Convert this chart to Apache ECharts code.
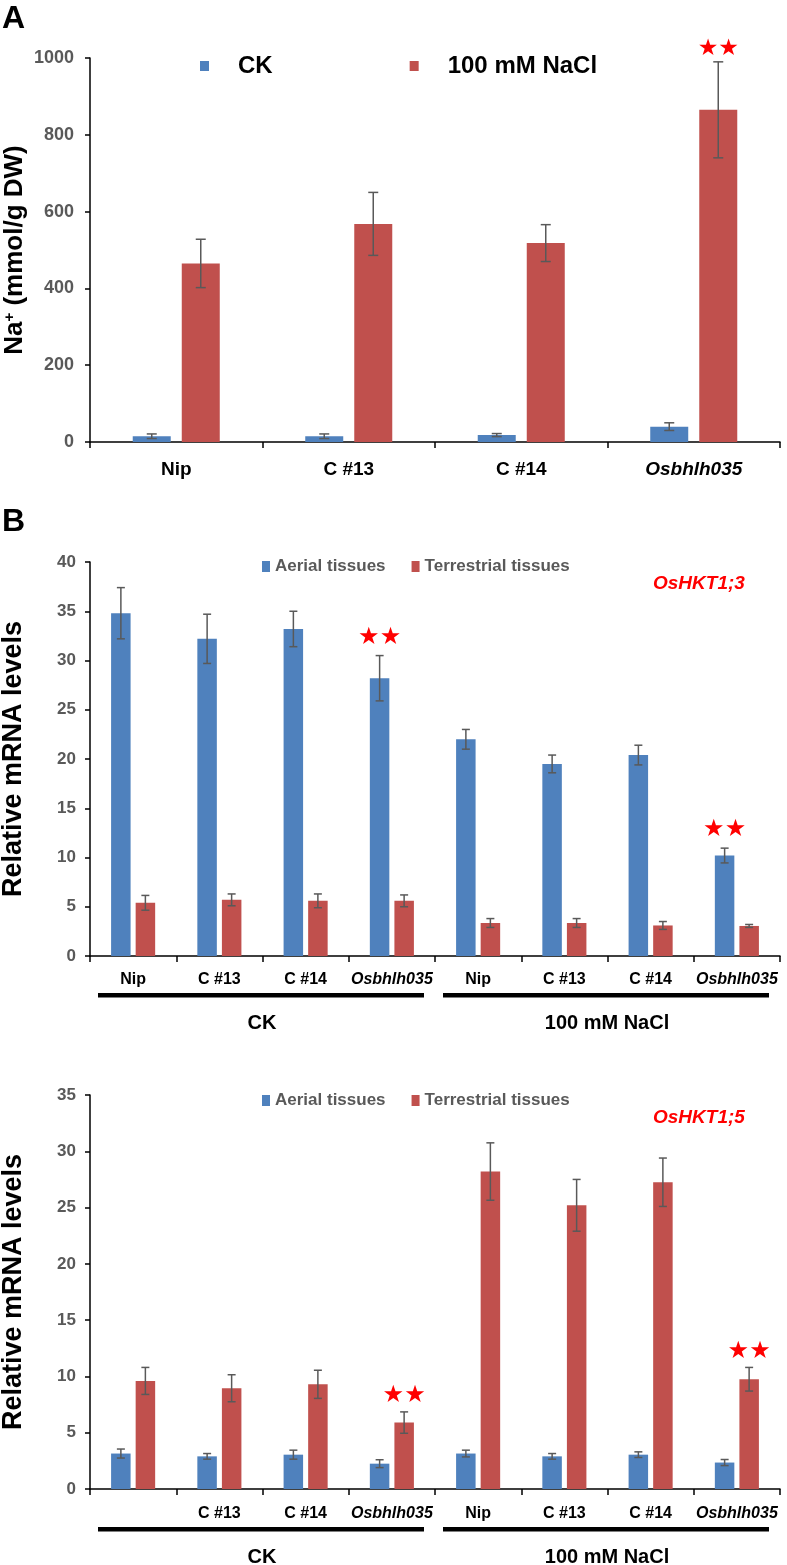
<!DOCTYPE html>
<html><head><meta charset="utf-8">
<script src="https://cdn.jsdelivr.net/npm/echarts@6/dist/echarts.min.js"></script>
<style>html,body{margin:0;padding:0;background:#fff}#c{width:787px;height:1565px}</style>
</head><body><div id="c"></div>
<script>
// ---------- Data ----------
const catsA = ['Nip', 'C #13', 'C #14', 'Osbhlh035'];
const naCK = [15, 15, 18, 40];
const naCKErr = [6, 6, 4, 10];
const naNaCl = [465, 568, 518, 865];
const naNaClErr = [63, 82, 48, 125];
const sigA_CK = [0, 0, 0, 0];
const sigA_NaCl = [0, 0, 0, 1];

const catsB1 = ['Nip', 'C #13', 'C #14', 'Osbhlh035', 'Nip', 'C #13', 'C #14', 'Osbhlh035'];
const hkt13Aerial = [34.8, 32.2, 33.2, 28.2, 22.0, 19.5, 20.4, 10.2];
const hkt13AerialErr = [2.6, 2.5, 1.8, 2.3, 1.0, 0.9, 1.0, 0.75];
const hkt13Terr = [5.4, 5.7, 5.6, 5.6, 3.35, 3.35, 3.1, 3.05];
const hkt13TerrErr = [0.75, 0.6, 0.7, 0.6, 0.45, 0.45, 0.4, 0.15];
const sigB1_Aerial = [0, 0, 0, 1, 0, 0, 0, 1];
const sigB1_Terr = [0, 0, 0, 0, 0, 0, 0, 0];

const catsB2 = ['', 'C #13', 'C #14', 'Osbhlh035', 'Nip', 'C #13', 'C #14', 'Osbhlh035'];
const hkt15Aerial = [3.15, 2.9, 3.05, 2.25, 3.15, 2.9, 3.05, 2.35];
const hkt15AerialErr = [0.4, 0.25, 0.4, 0.35, 0.3, 0.25, 0.25, 0.27];
const hkt15Terr = [9.6, 8.95, 9.3, 5.9, 28.2, 25.2, 27.25, 9.75];
const hkt15TerrErr = [1.2, 1.2, 1.25, 0.95, 2.55, 2.3, 2.15, 1.05];
const sigB2_Aerial = [0, 0, 0, 0, 0, 0, 0, 0];
const sigB2_Terr = [0, 0, 0, 1, 0, 0, 0, 1];

const legendA = ['CK', '100 mM NaCl'];
const legendB = ['Aerial tissues', 'Terrestrial tissues'];
const groupLabels = ['CK', '100 mM NaCl'];
const geneB1 = 'OsHKT1;3';
const geneB2 = 'OsHKT1;5';

// ---------- Style ----------
const FONT = "'Liberation Sans', Arial, sans-serif";
const BLUE = '#4F81BD', RED = '#C0504D', GRAY = '#595959';

function errData(vals, errs, sig) {
  return vals.map((v, i) => [i, v, errs[i], sig[i]]);
}
function errSeries(xi, yi, data, offset, cap, starSize, starGap) {
  return {
    type: 'custom', xAxisIndex: xi, yAxisIndex: yi, z: 5, silent: true,
    encode: { x: 0, y: 1 }, data: data,
    renderItem: function (params, api) {
      const i = api.value(0), v = api.value(1), e = api.value(2), s = api.value(3);
      const top = api.coord([i, v + e]);
      const bot = api.coord([i, v - e]);
      const x = top[0] + offset;
      const st = { stroke: GRAY, lineWidth: 1.5 };
      const ch = [
        { type: 'line', shape: { x1: x, y1: top[1], x2: x, y2: bot[1] }, style: st },
        { type: 'line', shape: { x1: x - cap, y1: top[1], x2: x + cap, y2: top[1] }, style: st },
        { type: 'line', shape: { x1: x - cap, y1: bot[1], x2: x + cap, y2: bot[1] }, style: st }
      ];
      if (s) {
        ch.push({ type: 'text', style: { text: '★★', x: x, y: top[1] - starGap, align: 'center', verticalAlign: 'bottom',
          fill: '#FF0000', font: starSize + "px 'DejaVu Sans', sans-serif" } });
      }
      return { type: 'group', children: ch };
    }
  };
}

function catAxis(gi, cats, fs, margin) {
  return {
    type: 'category', gridIndex: gi, data: cats,
    axisLine: { lineStyle: { color: '#000', width: 1.5 } },
    axisTick: { show: true, length: 6, lineStyle: { color: '#000', width: 1.5 } },
    axisLabel: {
      interval: 0, margin: margin, color: '#000', fontFamily: FONT, fontWeight: 'bold', fontSize: fs,
      formatter: v => v === 'Osbhlh035' ? '{i|' + v + '}' : v,
      rich: { i: { fontStyle: 'italic', fontWeight: 'bold', fontSize: fs, fontFamily: FONT, color: '#000' } }
    }
  };
}
function valAxis(gi, max, interval, fs, name, nameGap, nameSize, margin, rich) {
  return {
    type: 'value', gridIndex: gi, min: 0, max: max, interval: interval,
    splitLine: { show: false },
    axisLine: { show: true, lineStyle: { color: '#000', width: 1.5 } },
    axisTick: { show: true, length: 5, lineStyle: { color: '#000', width: 1.5 } },
    axisLabel: { color: GRAY, fontFamily: FONT, fontWeight: 'bold', fontSize: fs, margin: margin, formatter: v => String(v) },
    name: name, nameLocation: 'middle', nameGap: nameGap, nameMoveOverlap: false,
    nameTextStyle: { color: '#000', fontFamily: FONT, fontWeight: 'bold', fontSize: nameSize, rich: rich }
  };
}

const grids = [
  { left: 90, right: 7, top: 58, height: 384, containLabel: false, outerBoundsMode: 'none' },
  { left: 90, right: 7, top: 562, height: 394, containLabel: false, outerBoundsMode: 'none' },
  { left: 90, right: 7, top: 1095, height: 394, containLabel: false, outerBoundsMode: 'none' }
];

// Group underline decorations (below panel B axes)
const plotL = 90, plotR = 780, catW = (plotR - plotL) / 8;
function groupDeco(yLine, yText) {
  const out = [];
  [[0, 3], [4, 7]].forEach((g, k) => {
    const x1 = plotL + g[0] * catW + 8, x2 = plotL + (g[1] + 1) * catW - 11;
    out.push({ type: 'rect', shape: { x: x1, y: yLine, width: x2 - x1, height: 4.5 }, style: { fill: '#000' } });
    out.push({ type: 'text', style: { text: groupLabels[k], x: (x1 + x2) / 2 + 1, y: yText, align: 'center', verticalAlign: 'middle',
      fill: '#000', font: 'bold 20px ' + FONT } });
  });
  return out;
}

const option = {
  animation: false,
  backgroundColor: '#fff',
  grid: grids,
  legend: [
    { data: legendA, left: 200, top: 54, padding: 0, itemWidth: 9, itemHeight: 10, itemGap: 137, icon: 'rect',
      formatter: n => '{t|' + n + '}',
      textStyle: { rich: { t: { padding: [0, 0, 0, 24], fontSize: 24, fontWeight: 'bold', fontFamily: FONT, color: '#000' } } } },
    { data: legendB.map(n => ({ name: n })), left: 262, top: 558, padding: 0, itemWidth: 8, itemHeight: 11, itemGap: 26, icon: 'rect',
      textStyle: { fontSize: 17, fontWeight: 'bold', fontFamily: FONT, color: GRAY } },
    { data: legendB.map(n => ({ name: n })), left: 262, top: 1092, padding: 0, itemWidth: 8, itemHeight: 11, itemGap: 26, icon: 'rect',
      textStyle: { fontSize: 17, fontWeight: 'bold', fontFamily: FONT, color: GRAY } }
  ],
  xAxis: [catAxis(0, catsA, 19, 18), catAxis(1, catsB1, 16, 16), catAxis(2, catsB2, 16, 17)],
  yAxis: [
    valAxis(0, 1000, 200, 18, '{a|Na}{s|+}{a| (mmol/g DW)}', 62, 26, 16,
      { a: { fontSize: 26, fontWeight: 'bold', fontFamily: FONT, color: '#000' },
        s: { fontSize: 15, fontWeight: 'bold', fontFamily: FONT, color: '#000', verticalAlign: 'top', padding: [0, 0, 10, 0] } }),
    valAxis(1, 40, 5, 17, 'Relative mRNA levels', 63, 27, 14),
    valAxis(2, 35, 5, 17, 'Relative mRNA levels', 63, 27, 14)
  ],
  series: [
    { name: legendA[0], type: 'bar', xAxisIndex: 0, yAxisIndex: 0, data: naCK, barWidth: 38, barGap: '29%', itemStyle: { color: BLUE } },
    { name: legendA[1], type: 'bar', xAxisIndex: 0, yAxisIndex: 0, data: naNaCl, barWidth: 38, barGap: '29%', itemStyle: { color: RED } },
    errSeries(0, 0, errData(naCK, naCKErr, sigA_CK), -24.5, 5, 23, 1),
    errSeries(0, 0, errData(naNaCl, naNaClErr, sigA_NaCl), 24.5, 5, 23, 1),

    { name: legendB[0], type: 'bar', xAxisIndex: 1, yAxisIndex: 1, data: hkt13Aerial, barWidth: 19.5, barGap: '26%', itemStyle: { color: BLUE } },
    { name: legendB[1], type: 'bar', xAxisIndex: 1, yAxisIndex: 1, data: hkt13Terr, barWidth: 19.5, barGap: '26%', itemStyle: { color: RED } },
    errSeries(1, 1, errData(hkt13Aerial, hkt13AerialErr, sigB1_Aerial), -12.25, 4, 24, 6),
    errSeries(1, 1, errData(hkt13Terr, hkt13TerrErr, sigB1_Terr), 12.25, 4, 24, 6),

    { name: legendB[0], type: 'bar', xAxisIndex: 2, yAxisIndex: 2, data: hkt15Aerial, barWidth: 19.5, barGap: '26%', itemStyle: { color: BLUE } },
    { name: legendB[1], type: 'bar', xAxisIndex: 2, yAxisIndex: 2, data: hkt15Terr, barWidth: 19.5, barGap: '26%', itemStyle: { color: RED } },
    errSeries(2, 2, errData(hkt15Aerial, hkt15AerialErr, sigB2_Aerial), -12.25, 4, 24, 4),
    errSeries(2, 2, errData(hkt15Terr, hkt15TerrErr, sigB2_Terr), 12.25, 4, 24, 4)
  ],
  graphic: [
    { type: 'text', left: 2, top: 3, style: { text: 'A', fill: '#000', font: 'bold 32px ' + FONT } },
    { type: 'text', left: 2, top: 506, style: { text: 'B', fill: '#000', font: 'bold 32px ' + FONT } },
    { type: 'text', left: 653, top: 574, style: { text: geneB1, fill: '#FF0000', font: 'italic bold 19px ' + FONT } },
    { type: 'text', left: 653, top: 1108, style: { text: geneB2, fill: '#FF0000', font: 'italic bold 19px ' + FONT } }
  ].concat(groupDeco(993, 1023)).concat(groupDeco(1527, 1557))
};

const chart = echarts.init(document.getElementById('c'), null, { renderer: 'canvas', width: 787, height: 1565 });
chart.setOption(option);
</script>
</body></html>
